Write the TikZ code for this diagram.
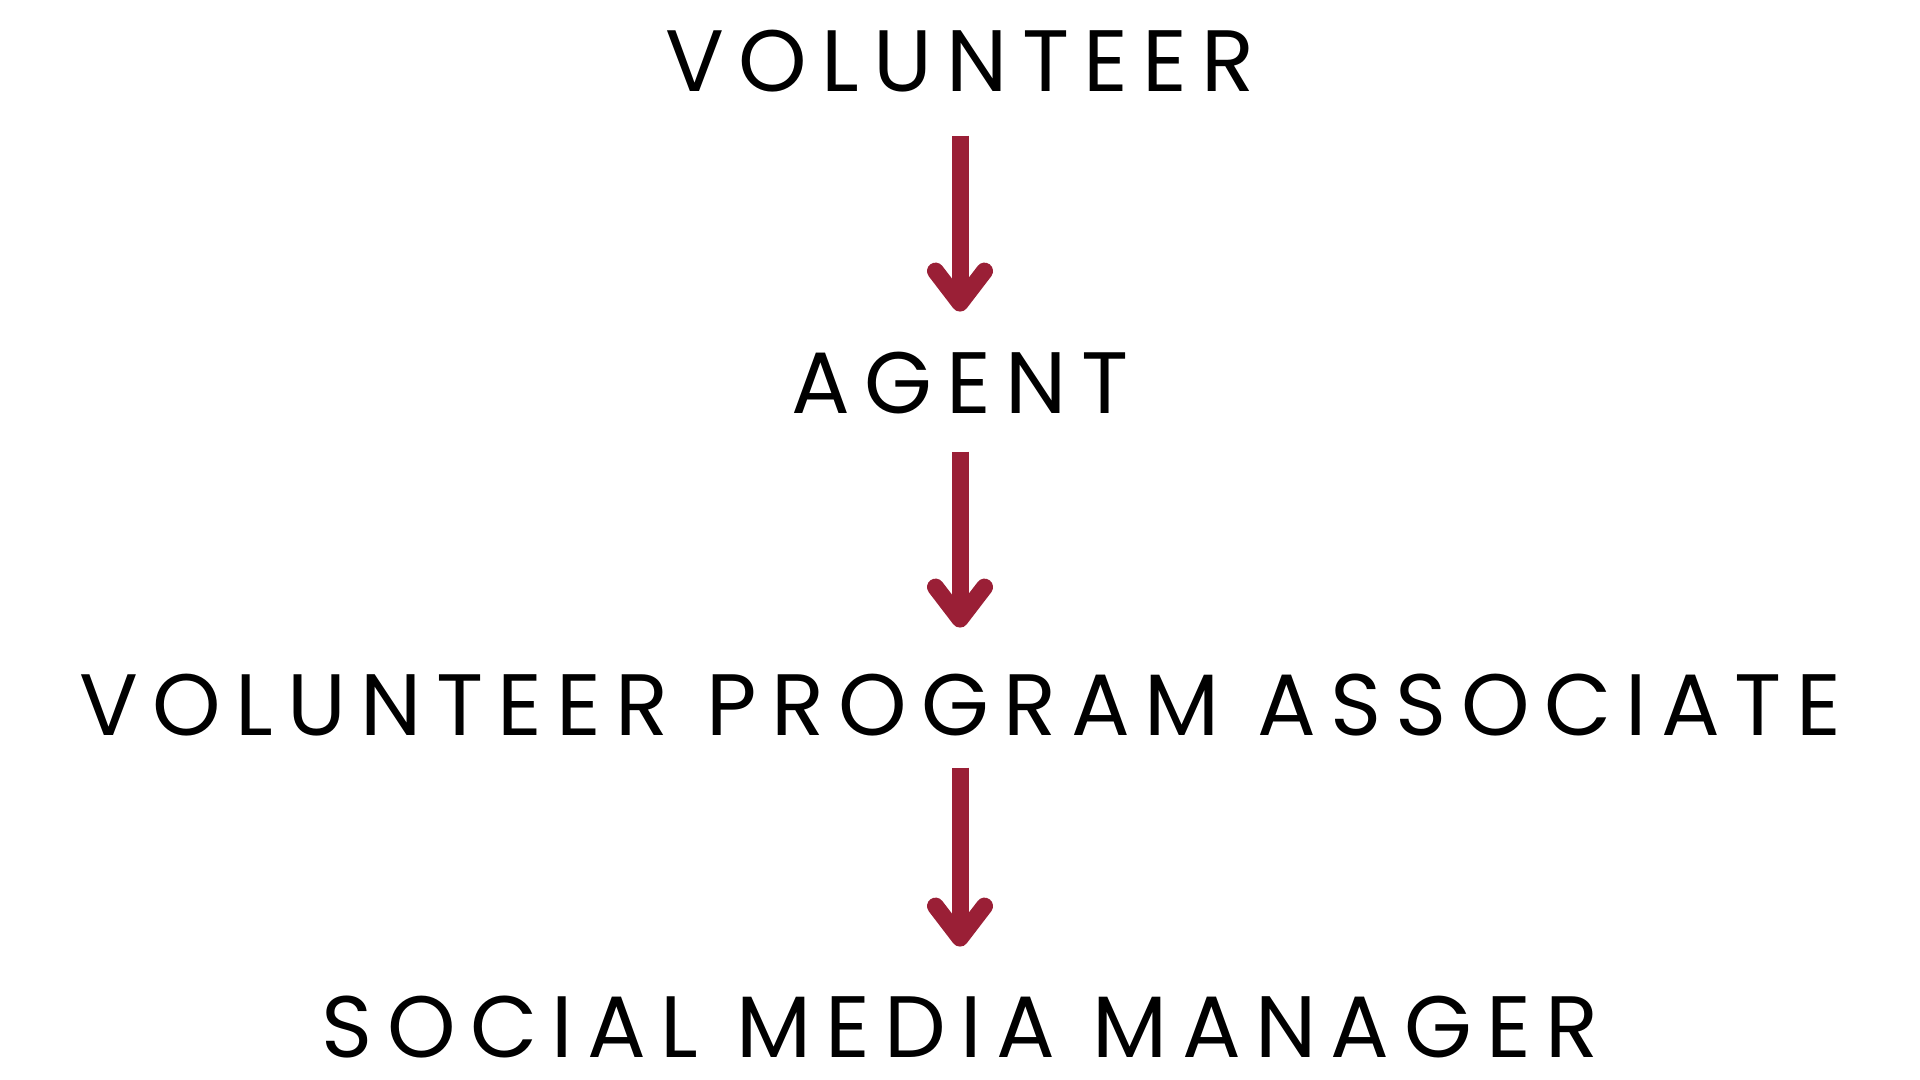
\documentclass[tikz,border=0pt]{standalone}
\usepackage{fontspec}
\setmainfont{Poppins}[LetterSpace=16.5]
\usetikzlibrary{positioning}
\usetikzlibrary{arrows.meta}
\definecolor{wine}{HTML}{9A1F36}
\tikzset{
	node_role/.style = {
		inner sep=0pt,
		outer sep=0pt,
		text height=0.61cm,
		text depth=0pt,
		font=\fontsize{24.8pt}{28pt}\selectfont,
		text=black
	},
	edge_step/.style = {
		draw=wine,
		line width=0.17cm,
		-{Straight Barb[length=0.32cm, width=0.49cm, round]}
	},
}
\begin{document}
\begin{tikzpicture}[node distance=2.61cm]
\useasboundingbox (0,0) rectangle (19.2,10.8);
\node [node_role, anchor=north] (volunteer) at (9.6,10.494) {VOLUNTEER};
\node [node_role, below=of volunteer] (agent) {AGENT};
\node [node_role, below=of agent] (associate) {VOLUNTEER PROGRAM ASSOCIATE};
\node [node_role, below=of associate] (manager) {SOCIAL MEDIA MANAGER};
\draw [edge_step, shorten <=0.44cm, shorten >=0.41cm] (volunteer) -- (agent);
\draw [edge_step, shorten <=0.38cm, shorten >=0.47cm] (agent) -- (associate);
\draw [edge_step, shorten <=0.32cm, shorten >=0.50cm] (associate) -- (manager);
\end{tikzpicture}
\end{document}
